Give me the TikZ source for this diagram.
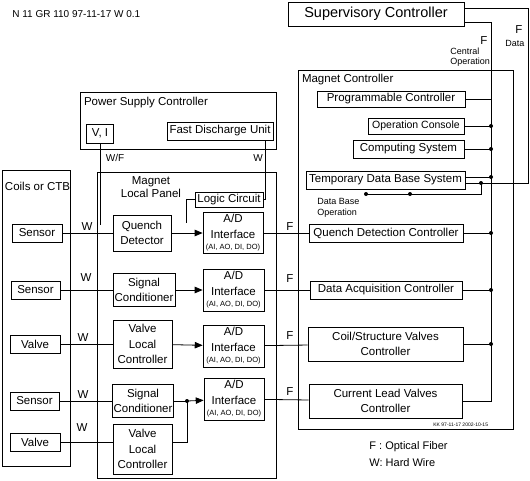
\documentclass[tikz,border=0pt]{standalone}
\usepackage{fontspec}
\setmainfont{Liberation Sans}
\usetikzlibrary{arrows}
\tikzset{every picture/.style={line width=0.8pt}}
\tikzset{box/.style={draw, rectangle, inner sep=1pt, align=center, font=\fontsize{11.5}{15.5}\selectfont}}
\tikzset{frame/.style={draw, rectangle, inner sep=0pt}}
\tikzset{lbl/.style={inner sep=0pt, font=\fontsize{11.5}{13.5}\selectfont}}
\tikzset{note/.style={inner sep=0pt, align=left, font=\fontsize{9}{10.5}\selectfont}}
\tikzset{dot/.style={circle, fill, inner sep=0pt, minimum size=4pt}}
\newcommand{\adlabel}{A/D\\Interface\\[-4pt]{\fontsize{7.5}{8}\selectfont (AI, AO, DI, DO)}}

\begin{document}
\begin{tikzpicture}[x=1pt, y=-1pt]
\useasboundingbox (0,0) rectangle (530,480);
\node[lbl, anchor=west, font=\fontsize{10}{12}\selectfont] (hdr) at (12,14) {N 11 GR 110 97-11-17 W 0.1};

% outer frames
\node[frame, minimum width=215pt, minimum height=359pt,
  label={[lbl, anchor=north west, xshift=4pt, yshift=-4pt]north west:Magnet Controller}] (mc) at (405.5,249.5) {};
\node[frame, minimum width=196pt, minimum height=57pt,
  label={[lbl, anchor=north west, xshift=4pt, yshift=-5pt]north west:Power Supply Controller}] (psc) at (178,120.5) {};
\node[frame, minimum width=179pt, minimum height=306pt] (mlp) at (186.5,325) {};
\node[lbl, align=center] (mlpl) at (151,187) {Magnet\\Local Panel};
\node[frame, minimum width=68pt, minimum height=296pt,
  label={[lbl, anchor=north west, xshift=3pt, yshift=-12pt]north west:Coils or CTB}] (coil) at (36,318) {};

% supervisory and magnet controller
\node[box, minimum width=176pt, minimum height=24pt, font=\fontsize{14.5}{16}\selectfont] (sup) at (376,14) {Supervisory Controller};
\node[box, minimum width=148pt, minimum height=16pt] (pc) at (391,99) {Programmable Controller};
\node[box, minimum width=96pt, minimum height=16pt, font=\fontsize{10.5}{12}\selectfont] (oc) at (416,126) {Operation Console};
\node[box, minimum width=111pt, minimum height=18pt] (cs) at (408.5,149) {Computing System};
\node[box, minimum width=159pt, minimum height=18pt] (tdb) at (385.5,180) {Temporary Data Base System};
\node[box, minimum width=154pt, minimum height=18pt] (qdc) at (386,233) {Quench Detection Controller};
\node[box, minimum width=152pt, minimum height=18pt] (dac) at (386,290) {Data Acquisition Controller};
\node[box, minimum width=155pt, minimum height=34pt] (csv) at (385.5,344) {Coil/Structure Valves\\Controller};
\node[box, minimum width=153pt, minimum height=34pt] (clv) at (385.5,401) {Current Lead Valves\\Controller};

% power supply controller
\node[box, minimum width=27pt, minimum height=19pt] (vi) at (100,133.5) {V, I};
\node[box, minimum width=106pt, minimum height=18pt] (fdu) at (220,131) {Fast Discharge Unit};

% coils
\node[box, minimum width=50pt, minimum height=18pt] (s1) at (37,233) {Sensor};
\node[box, minimum width=49pt, minimum height=18pt] (s2) at (35.5,290) {Sensor};
\node[box, minimum width=50pt, minimum height=18pt] (v1) at (35,344) {Valve};
\node[box, minimum width=49pt, minimum height=18pt] (s3) at (34.5,401) {Sensor};
\node[box, minimum width=50pt, minimum height=18pt] (v2) at (35,442) {Valve};

% local panel
\node[box, minimum width=68pt, minimum height=15pt] (lc) at (229,199.5) {Logic Circuit};
\node[box, minimum width=58pt, minimum height=36pt] (qd) at (142,233) {Quench\\Detector};
\node[box, minimum width=62pt, minimum height=33pt] (sc1) at (144,290) {Signal\\Conditioner};
\node[box, minimum width=59pt, minimum height=48pt] (vlc1) at (142.5,344) {Valve\\Local\\Controller};
\node[box, minimum width=60pt, minimum height=33pt] (sc2) at (143,401) {Signal\\Conditioner};
\node[box, minimum width=59pt, minimum height=50pt] (vlc2) at (142.5,449) {Valve\\Local\\Controller};
\node[box, minimum width=60pt, minimum height=41pt] (ad1) at (233,233) {\adlabel};
\node[box, minimum width=61pt, minimum height=42pt] (ad2) at (233.5,290) {\adlabel};
\node[box, minimum width=61pt, minimum height=42pt] (ad3) at (233.5,346) {\adlabel};
\node[box, minimum width=60pt, minimum height=42pt] (ad4) at (234,399) {\adlabel};

\coordinate (bt) at (491,99);
\coordinate (dr) at (528,183);
\coordinate (d1) at (481,183);
\coordinate (d2) at (366,194);
\coordinate (d3) at (410,194);
\coordinate (vie) at (100,225);
\coordinate (fdx) at (265,140);
\coordinate (lce) at (186,223);
\coordinate (j4) at (187,401);

% fiber links to supervisory
\draw ([yshift=6pt]sup.east) -| (dr) -- ([yshift=-3pt]tdb.east);
\draw ([yshift=-8pt]sup.east) -| (bt) -- (pc.east);
\draw (bt) |- (clv.east);
\foreach \n in {oc, cs, qdc, dac, csv}
  \draw (\n.east) -- (\n.east -| bt) node[dot] {};
\draw ([yshift=3pt]tdb.east) -- ([yshift=3pt]tdb.east -| bt) node[dot] {};
\draw (d1) |- (d2);
\node[dot] (d1dot) at (d1) {};
\node[dot] (d2dot) at (d2) {};
\node[dot] (d3dot) at (d3) {};
\node[note, anchor=north west] (dbo) at (317,198) {Data Base\\Operation};
\node[lbl] (fc) at (484,41) {F};
\node[note, anchor=west] (cop) at (450,57) {Central\\Operation};
\node[lbl] (fd) at (519,30) {F};
\node[note, anchor=west] (dat) at (505,43) {Data};

% power supply links
\draw (vi.south) -- (vie);
\draw (fdx) |- (lc.east);
\draw (lc.west) -| (lce);
\node[lbl, font=\fontsize{10}{12}\selectfont] (wf) at (115,158) {W/F};
\node[lbl, font=\fontsize{10}{12}\selectfont] (wfd) at (258,158) {W};

% signal rows
\foreach \a/\b in {s1/qd, s2/sc1, v1/vlc1, s3/sc2}
  \draw (\a) -- (\b);
\foreach \a/\b in {qd/ad1, sc1/ad2, vlc1/ad3}
  \draw[-triangle 45] (\a) -- (\b);
\draw (sc2) -- (j4);
\draw[-triangle 45] (j4) -- (ad4);
\node[dot] (j4dot) at (j4) {};
\draw (v2) -- (v2 -| vlc2.west);
\draw (vlc2.east |- v2) -| (j4);
\foreach \a/\b in {ad1/qdc, ad2/dac, ad3/csv, ad4/clv}
  \draw (\a) -- (\b);
\foreach \x/\y in {87/227, 86/278, 83/338, 83/395, 82/428}
  \node[lbl] (w\y) at (\x,\y) {W};
\foreach \y in {227, 279, 336, 392}
  \node[lbl] (f\y) at (290,\y) {F};

% legend
\node[lbl, anchor=west, font=\fontsize{11}{13}\selectfont] (lgf) at (369,447) {F : Optical Fiber};
\node[lbl, anchor=west, font=\fontsize{11}{13}\selectfont] (lgw) at (369,463) {W: Hard Wire};
\node[lbl, anchor=west, font=\fontsize{5}{6}\selectfont] (rev) at (433,425) {KK 97-11-17 2002-10-15};
\end{tikzpicture}
\end{document}
